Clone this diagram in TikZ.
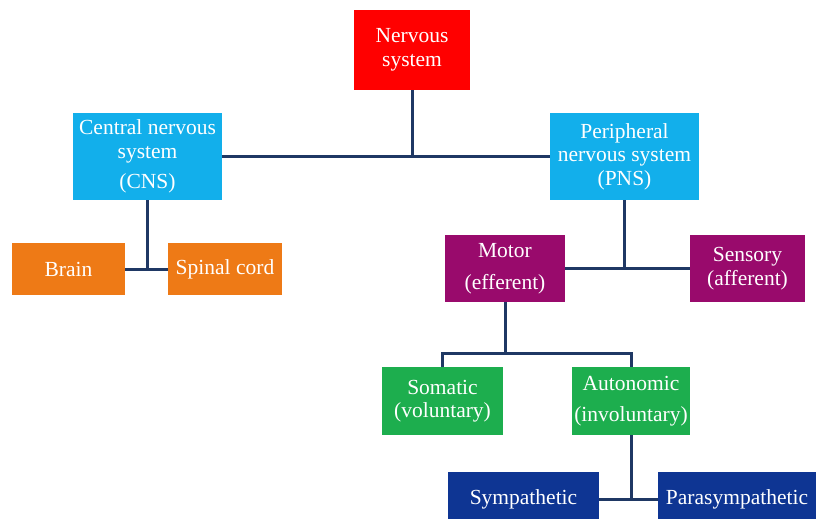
\documentclass[tikz,border=0pt]{standalone}
\usepackage{fontspec}
\setmainfont{Liberation Serif}
\definecolor{cred}{HTML}{FF0000}
\definecolor{cblue}{HTML}{12AFEB}
\definecolor{corange}{HTML}{EE7A16}
\definecolor{cpurple}{HTML}{990A6C}
\definecolor{cgreen}{HTML}{1DAE4E}
\definecolor{cnavy}{HTML}{0E3593}
\definecolor{cline}{HTML}{1F3864}
\tikzset{
  box/.style={inner sep=0pt, align=center, text=white, font=\fontsize{21.5}{23.5}\selectfont},
  conn/.style={draw=cline, line width=3pt},
}
\begin{document}
\begin{tikzpicture}[x=1pt,y=-1pt]
\useasboundingbox (0,0) rectangle (816,519);
\clip (0,0) rectangle (816,519);
\fill[white] (0,0) rectangle (816,519);
\node[box, fill=cred, minimum width=116pt, minimum height=80pt] (nerv) at (412,50) {Nervous\\system};
\node[box, fill=cblue, minimum width=149pt, minimum height=87pt] (cns) at (147.5,156.5) {Central nervous\\system\\[7pt](CNS)};
\node[box, fill=cblue, minimum width=149pt, minimum height=87pt] (pns) at (624.5,156.5) {Peripheral\\nervous system\\(PNS)};
\node[box, fill=corange, minimum width=113pt, minimum height=52pt] (brain) at (68.5,269) {Brain};
\node[box, fill=corange, minimum width=114pt, minimum height=52pt] (spinal) at (225,269) {Spinal cord};
\node[box, fill=cpurple, minimum width=120pt, minimum height=67pt] (motor) at (505,268.5) {Motor\\[8pt](efferent)};
\node[box, fill=cpurple, minimum width=115pt, minimum height=67pt] (sensory) at (747.5,268.5) {Sensory\\(afferent)};
\node[box, fill=cgreen, minimum width=121pt, minimum height=68pt] (somatic) at (442.5,401) {Somatic\\(voluntary)};
\node[box, fill=cgreen, minimum width=118pt, minimum height=68pt] (auto) at (631,401) {Autonomic\\[7pt](involuntary)};
\node[box, fill=cnavy, minimum width=151pt, minimum height=54pt] (symp) at (523.5,499) {\raisebox{2pt}{Sympathetic}};
\node[box, fill=cnavy, minimum width=158pt, minimum height=54pt] (para) at (737,499) {\raisebox{2pt}{Parasympathetic}};
\coordinate (bar) at (505,353);
\draw[conn] (cns) -- (pns);
\draw[conn] (nerv.south) -- (nerv.south |- cns);
\draw[conn] (brain) -- (spinal);
\draw[conn] (cns.south) -- (cns.south |- brain);
\draw[conn] (motor) -- (sensory);
\draw[conn] (pns.south) -- (pns.south |- motor);
\draw[conn] (motor.south) -- (bar);
\draw[conn, line cap=butt] (somatic.north) -- (somatic.north |- bar) -- (auto.north |- bar) -- (auto.north);
\draw[conn] (symp) -- (para);
\draw[conn] (auto.south) -- (auto.south |- symp);
\end{tikzpicture}
\end{document}
